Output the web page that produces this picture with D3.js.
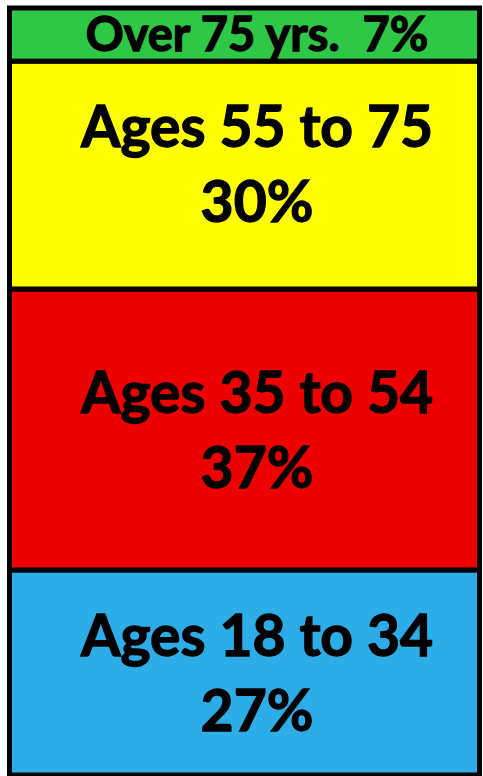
<!DOCTYPE html>
<html>
<head>
<meta charset="utf-8">
<style>
  body { margin: 0; background: #fff; }
  .seg { stroke: #000; stroke-width: 5; }
  .lbl { font-family: Lato, "Open Sans", sans-serif; font-weight: bold; fill: #000; stroke: #000; stroke-width: 1.3; white-space: pre; }
</style>
<script src="https://d3js.org/d3.v7.min.js"></script>
</head>
<body>
<svg width="483" height="776"></svg>
<script>
// bottom to top
var categories = ["Ages 18 to 34", "Ages 35 to 54", "Ages 55 to 75", "Over 75 yrs."];
var values = [27, 37, 30, 7];
var colors = ["#2CADE8", "#EE0000", "#FFFF00", "#2EC846"];

var svg = d3.select("svg");

var total = d3.sum(values);
var y = d3.scaleLinear().domain([0, total]).range([775, 8]);
var x = d3.scaleLinear().domain([0, 1]).range([9.5, 479.5]);

var data = [], acc = 0;
values.forEach(function(v, i) {
  data.push({ name: categories[i], value: v, y0: acc, y1: acc + v, color: colors[i] });
  acc += v;
});

svg.selectAll("rect.seg")
  .data(data)
  .enter().append("rect")
    .attr("class", "seg")
    .attr("x", x(0))
    .attr("width", x(1) - x(0))
    .attr("y", function(d) { return y(d.y1); })
    .attr("height", function(d) { return y(d.y0) - y(d.y1); })
    .attr("fill", function(d) { return d.color; });

var cx = 257;

var g = svg.selectAll("g.lab")
  .data(data)
  .enter().append("g").attr("class", "lab");

g.each(function(d, i) {
  var el = d3.select(this);
  var mid = (y(d.y0) + y(d.y1)) / 2;
  if (d.value < 10) {
    // small top segment gets one line
    el.append("text")
      .attr("class", "lbl")
      .attr("x", cx)
      .attr("y", mid + 16)
      .attr("text-anchor", "middle")
      .style("font-size", "47px")
      .text(d.name + "  " + d.value + "%");
  } else {
    var off = i == 2 ? -12 : 0;   // yellow label sits a bit higher
    el.append("text")
      .attr("class", "lbl")
      .attr("x", cx)
      .attr("y", mid - 16 + off)
      .attr("text-anchor", "middle")
      .style("font-size", "57px")
      .text(d.name);
    el.append("text")
      .attr("class", "lbl")
      .attr("x", cx)
      .attr("y", mid + 59 + off)
      .attr("text-anchor", "middle")
      .style("font-size", "57px")
      .text(d.value + "%");
  }
});
</script>
</body>
</html>
